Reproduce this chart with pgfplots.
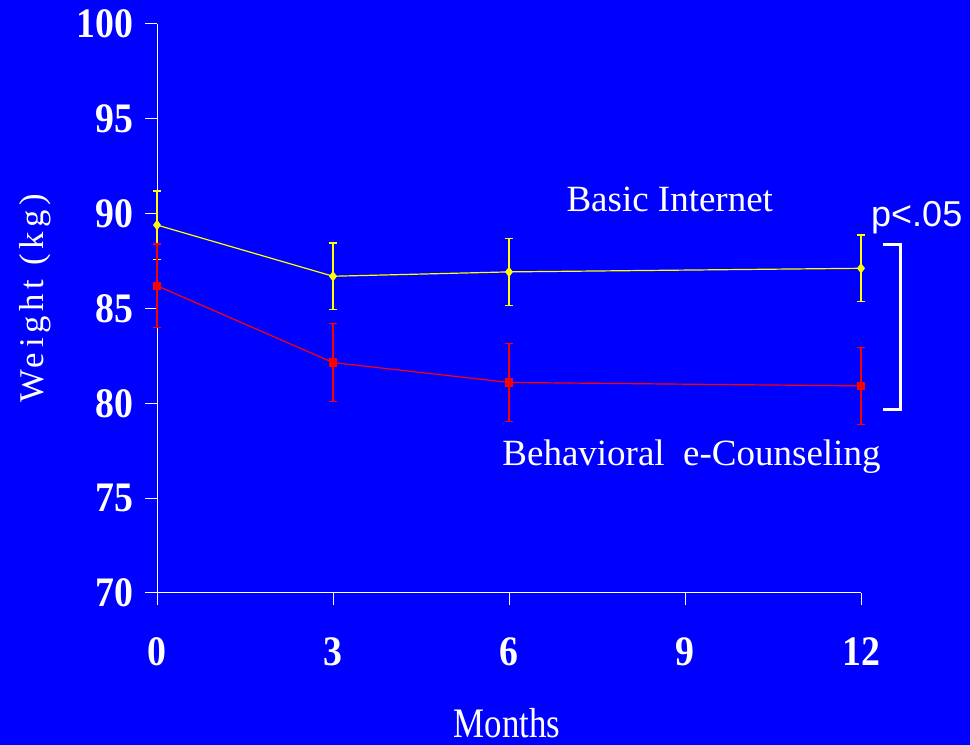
\documentclass[border=0pt]{standalone}
\usepackage{pgfplots}
\pgfplotsset{compat=1.18}
\usepackage{fontspec}
\setmainfont{Liberation Serif}
\newfontfamily\tickfont[FakeStretch=0.9]{Liberation Serif}
\newfontfamily\monthfont[FakeStretch=0.83]{Liberation Serif}
\newfontfamily\spacedfont[LetterSpace=14]{Liberation Serif}
\newfontfamily\sansfont{Liberation Sans}
\definecolor{slideBlue}{RGB}{0,0,255}
\definecolor{basicYellow}{RGB}{255,255,0}
\definecolor{counselRed}{RGB}{255,0,0}

\pgfplotstableread{
x y e
0 89.40 1.80
3 86.70 1.75
6 86.93 1.76
12 87.12 1.75
}\basicdata

\pgfplotstableread{
x y e
0 86.20 2.20
3 82.15 2.05
6 81.10 2.05
12 80.92 2.03
}\counseldata

\begin{document}
\begin{tikzpicture}
\path[use as bounding box] (0,0) rectangle (727.5pt,558.75pt);
\fill[slideBlue] (0,0) rectangle (727.5pt,558.75pt);
\begin{axis}[
    at={(117.75pt,114pt)}, anchor=south west,
    scale only axis,
    width=528pt, height=426.75pt,
    xmin=0, xmax=12, ymin=70, ymax=100,
    xtick={0,3,6,9,12}, ytick={70,75,...,100},
    axis x line=bottom, axis y line=left,
    axis line style={-, white, line width=0.75pt},
    tick style={white, line width=0.75pt},
    tick align=outside,
    major tick length=9pt,
    /pgf/number format/assume math mode=true,
    ticklabel style={font=\fontsize{31.5}{36}\selectfont\tickfont\bfseries, text=white},
    xticklabel style={yshift=-21pt},
    yticklabel style={xshift=-5pt},
    xlabel={Months},
    xlabel style={font=\fontsize{31.5}{36}\selectfont\monthfont, text=white,
        at={(axis description cs:0.497,-0.228)}, anchor=center},
    ylabel={Weight (kg)},
    ylabel style={font=\fontsize{26}{30}\selectfont\spacedfont, text=white,
        at={(axis description cs:-0.173,0.518)}, anchor=center, rotate=0},
    clip=false,
]
\addplot[basicYellow, line width=0.9pt, mark=diamond*, mark size=3.2pt,
    mark options={fill=basicYellow, draw=basicYellow},
    error bars/.cd, y dir=both, y explicit,
    error bar style={line width=1pt, draw=basicYellow},
    error mark options={draw=basicYellow, line width=1pt, mark size=3.3pt, rotate=90}]
    table[x=x, y=y, y error=e] {\basicdata};
\addplot[counselRed, line width=0.9pt, mark=square*, mark size=2.6pt,
    mark options={fill=counselRed, draw=counselRed},
    error bars/.cd, y dir=both, y explicit,
    error bar style={line width=1pt, draw=counselRed},
    error mark options={draw=counselRed, line width=1pt, mark size=3.3pt, rotate=90}]
    table[x=x, y=y, y error=e] {\counseldata};
\node[anchor=base, text=white, font=\fontsize{27.75}{32}\selectfont]
    at (axis cs:8.74,90.14) {Basic Internet};
\node[anchor=base, text=white, font=\fontsize{27.75}{32}\selectfont]
    at (axis cs:9.11,76.70) {Behavioral\ \ e-Counseling};
\node[anchor=base, text=white, font=\fontsize{27}{30}\selectfont\sansfont]
    at (axis cs:12.95,89.30) {p<.05};
\draw[white, line width=2.25pt]
    (axis cs:12.375,88.35) -- (axis cs:12.665,88.35) -- (axis cs:12.665,79.7) -- (axis cs:12.375,79.7);
\end{axis}
\end{tikzpicture}
\end{document}
